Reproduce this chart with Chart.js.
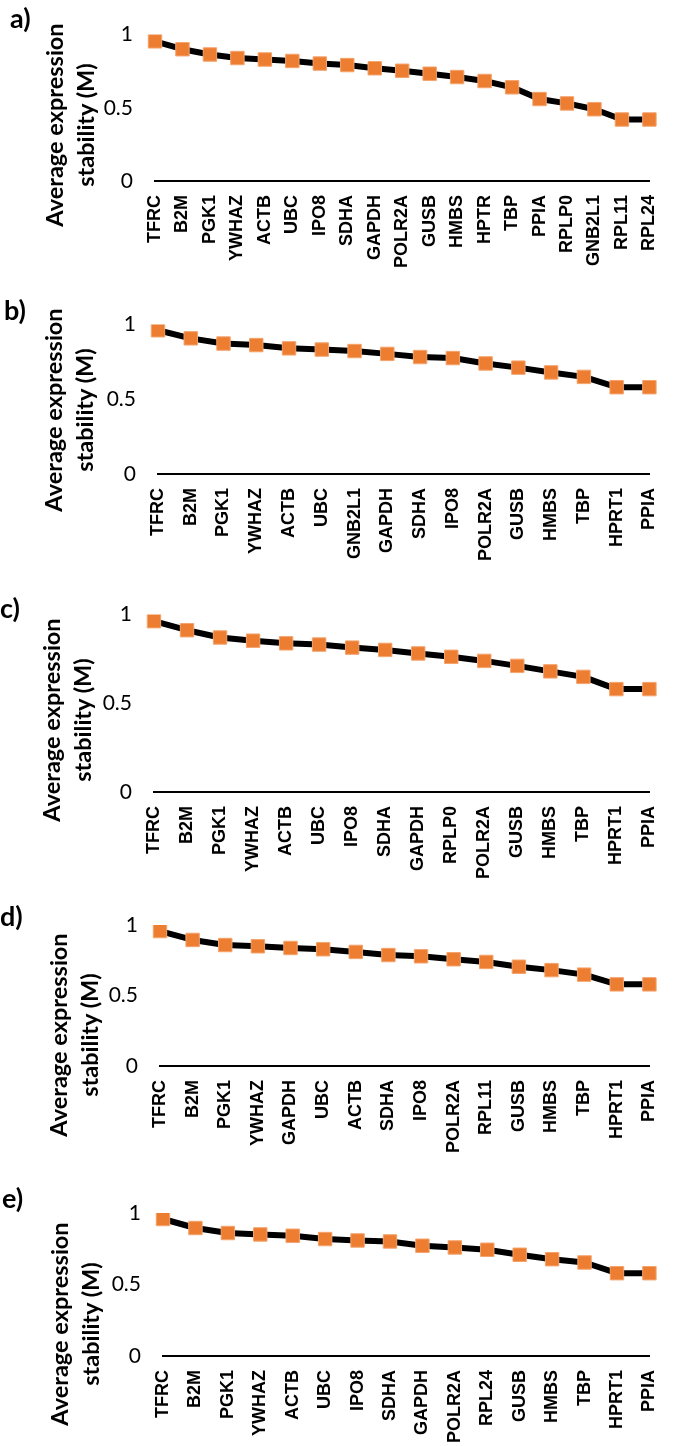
<!DOCTYPE html>
<html>
<head>
<meta charset="utf-8">
<script src="https://cdn.jsdelivr.net/npm/chart.js@4.4.1/dist/chart.umd.min.js"></script>
<style>
    body { margin: 0; background: #fff; width: 685px; height: 1446px; position: relative; overflow: hidden; }
    canvas { position: absolute; left: 0; }
    .tag { position: absolute; font: bold 27px Lato, sans-serif; color: #000; }
    .ytitle {
        position: absolute; font: bold 23.5px Lato, sans-serif; color: #000; line-height: 31px;
        text-align: center; white-space: nowrap; transform: translate(-50%, -50%) rotate(-90deg);
    }
</style>
</head>
<body>
<canvas id="chartA" width="685" height="290" style="top:0px"></canvas>
<canvas id="chartB" width="685" height="290" style="top:290px"></canvas>
<canvas id="chartC" width="685" height="305" style="top:580px"></canvas>
<canvas id="chartD" width="685" height="275" style="top:885px"></canvas>
<canvas id="chartE" width="685" height="286" style="top:1160px"></canvas>

<div class="tag" style="left:10px;top:1px">a)</div>
<div class="tag" style="left:4px;top:293px">b)</div>
<div class="tag" style="left:0px;top:591px">c)</div>
<div class="tag" style="left:0px;top:899px">d)</div>
<div class="tag" style="left:2px;top:1181px">e)</div>

<div class="ytitle" style="left:70px;top:125px">Average expression<br>stability (M)</div>
<div class="ytitle" style="left:69px;top:410px">Average expression<br>stability (M)</div>
<div class="ytitle" style="left:67px;top:720px">Average expression<br>stability (M)</div>
<div class="ytitle" style="left:74px;top:1035px">Average expression<br>stability (M)</div>
<div class="ytitle" style="left:75px;top:1324px">Average expression<br>stability (M)</div>

<script>
// y axis ticks shared by all panels
const yTickValues = [0, 0.5, 1];

// a)
const genesA = ['TFRC', 'B2M', 'PGK1', 'YWHAZ', 'ACTB', 'UBC', 'IPO8', 'SDHA', 'GAPDH', 'POLR2A',
    'GUSB', 'HMBS', 'HPTR', 'TBP', 'PPIA', 'RPLP0', 'GNB2L1', 'RPL11', 'RPL24'];
const stabilityA = [0.954, 0.90, 0.864, 0.84, 0.83, 0.82, 0.802, 0.792, 0.77, 0.753,
    0.733, 0.71, 0.683, 0.64, 0.56, 0.53, 0.49, 0.42, 0.42];

// b)
const genesB = ['TFRC', 'B2M', 'PGK1', 'YWHAZ', 'ACTB', 'UBC', 'GNB2L1', 'GAPDH', 'SDHA', 'IPO8',
    'POLR2A', 'GUSB', 'HMBS', 'TBP', 'HPRT1', 'PPIA'];
const stabilityB = [0.962, 0.908, 0.873, 0.863, 0.841, 0.833, 0.823, 0.804, 0.783, 0.776,
    0.74, 0.712, 0.68, 0.65, 0.581, 0.581];

// c)
const genesC = ['TFRC', 'B2M', 'PGK1', 'YWHAZ', 'ACTB', 'UBC', 'IPO8', 'SDHA', 'GAPDH', 'RPLP0',
    'POLR2A', 'GUSB', 'HMBS', 'TBP', 'HPRT1', 'PPIA'];
const stabilityC = [0.963, 0.912, 0.871, 0.853, 0.838, 0.831, 0.814, 0.801, 0.781, 0.762,
    0.739, 0.711, 0.68, 0.649, 0.58, 0.58];

// d)
const genesD = ['TFRC', 'B2M', 'PGK1', 'YWHAZ', 'GAPDH', 'UBC', 'ACTB', 'SDHA', 'IPO8', 'POLR2A',
    'RPL11', 'GUSB', 'HMBS', 'TBP', 'HPRT1', 'PPIA'];
const stabilityD = [0.957, 0.894, 0.858, 0.849, 0.837, 0.828, 0.809, 0.787, 0.778, 0.757,
    0.738, 0.704, 0.68, 0.648, 0.579, 0.579];

// e)
const genesE = ['TFRC', 'B2M', 'PGK1', 'YWHAZ', 'ACTB', 'UBC', 'IPO8', 'SDHA', 'GAPDH', 'POLR2A',
    'RPL24', 'GUSB', 'HMBS', 'TBP', 'HPRT1', 'PPIA'];
const stabilityE = [0.958, 0.895, 0.86, 0.85, 0.841, 0.818, 0.808, 0.801, 0.771, 0.759,
    0.743, 0.708, 0.677, 0.654, 0.579, 0.579];

function makePanel(id, genes, values, box) {
    new Chart(document.getElementById(id), {
        type: 'line',
        data: {
            labels: genes,
            datasets: [{
                data: values,
                borderColor: '#000000',
                borderWidth: 6,
                borderJoinStyle: 'round',
                tension: 0,
                pointStyle: 'rect',
                pointRadius: 9.5,
                pointBackgroundColor: '#ED7D31',
                pointBorderColor: '#F4A46E',
                pointBorderWidth: 1
            }]
        },
        options: {
            responsive: false,
            animation: false,
            events: [],
            layout: { padding: { top: box.top, right: box.right, left: 0, bottom: 0 } },
            plugins: {
                legend: { display: false },
                tooltip: { enabled: false }
            },
            scales: {
                x: {
                    grid: { display: false, drawTicks: false },
                    border: { display: true, color: '#000000', width: 2 },
                    ticks: {
                        autoSkip: false,
                        minRotation: 90,
                        maxRotation: 90,
                        padding: 14,
                        color: '#000000',
                        font: { family: 'Liberation Sans', weight: 'bold', size: 18 }
                    },
                    afterFit: function (scale) { scale.height = box.xh; }
                },
                y: {
                    min: 0,
                    max: 1,
                    grid: { display: false, drawTicks: false },
                    border: { display: false },
                    ticks: {
                        padding: 22,
                        color: '#000000',
                        font: { family: 'Lato', size: 21 },
                        callback: function (value) { return String(value); }
                    },
                    afterBuildTicks: function (scale) {
                        scale.ticks = yTickValues.map(v => ({ value: v }));
                    },
                    afterFit: function (scale) { scale.width = box.left; }
                }
            }
        }
    });
}

makePanel('chartA', genesA, stabilityA, { top: 14, right: 3, left: 155, xh: 109 });
makePanel('chartB', genesB, stabilityB, { top: 16, right: 3, left: 158, xh: 106 });
makePanel('chartC', genesC, stabilityC, { top: 31, right: 3, left: 154, xh: 93 });
makePanel('chartD', genesD, stabilityD, { top: 40, right: 5, left: 160, xh: 94 });
makePanel('chartE', genesE, stabilityE, { top: 53, right: 0, left: 163, xh: 90 });
</script>
</body>
</html>
